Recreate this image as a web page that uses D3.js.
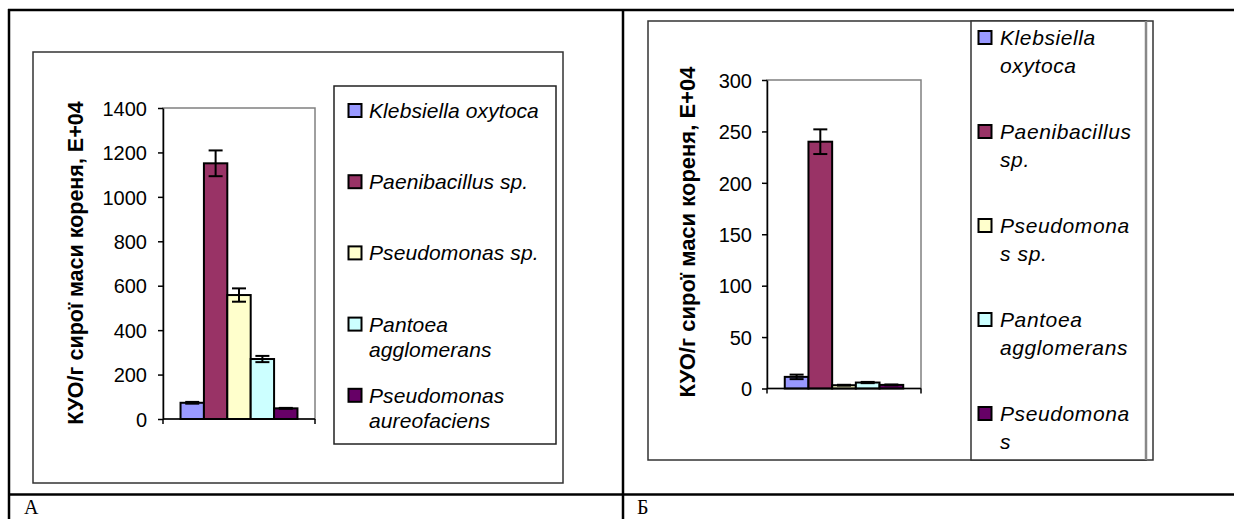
<!DOCTYPE html>
<html>
<head>
<meta charset="utf-8">
<script src="https://cdn.jsdelivr.net/npm/d3@7"></script>
<style>
  html, body { margin: 0; padding: 0; background: #fff; }
  svg { display: block; }
</style>
</head>
<body>
<svg id="chart" width="1234" height="519"></svg>
<script>
// ---------- DATA ----------
const categories = ["Klebsiella oxytoca", "Paenibacillus sp.", "Pseudomonas sp.", "Pantoea agglomerans", "Pseudomonas aureofaciens"];
const colors = ["#9999FF", "#993366", "#FFFFCC", "#CCFFFF", "#660066"];
const valuesA = [73, 1151, 558, 270, 48];
const errorsA = [4, 58, 30, 14, 2];
const valuesB = [11.3, 240, 3.2, 5.8, 3.5];
const errorsB = [2.2, 12, 0.4, 0.6, 0.4];
const ticksA = [0, 200, 400, 600, 800, 1000, 1200, 1400];
const ticksB = [0, 50, 100, 150, 200, 250, 300];
const legendLinesA = [["Klebsiella oxytoca"], ["Paenibacillus sp."], ["Pseudomonas sp."], ["Pantoea", "agglomerans"], ["Pseudomonas", "aureofaciens"]];
const legendLinesB = [["Klebsiella", "oxytoca"], ["Paenibacillus", "sp."], ["Pseudomona", "s sp."], ["Pantoea", "agglomerans"], ["Pseudomona", "s"]];
const yTitle = "КУО/г сирої маси кореня, E+04";
const panelLabels = ["А", "Б"];

// ---------- DRAW ----------
const svg = d3.select("#chart");

// outer table lines
const tbl = svg.append("g").attr("stroke", "#000").attr("stroke-width", 2.5);
tbl.append("line").attr("x1", 8).attr("x2", 1234).attr("y1", 10).attr("y2", 10);
tbl.append("line").attr("x1", 9).attr("x2", 9).attr("y1", 9).attr("y2", 519);
tbl.append("line").attr("x1", 623).attr("x2", 623).attr("y1", 9).attr("y2", 519);
tbl.append("line").attr("x1", 8).attr("x2", 1234).attr("y1", 494.5).attr("y2", 494.5);

svg.append("text").attr("x", 24).attr("y", 514)
  .attr("font-family", "Liberation Serif, Times New Roman, serif").attr("font-size", 20)
  .text(panelLabels[0]);
svg.append("text").attr("x", 637).attr("y", 514)
  .attr("font-family", "Liberation Serif, Times New Roman, serif").attr("font-size", 20)
  .text(panelLabels[1]);

function drawChart(cfg) {
  const g = svg.append("g");
  // chart frame
  g.append("rect").attr("x", cfg.frame[0]).attr("y", cfg.frame[1])
    .attr("width", cfg.frame[2] - cfg.frame[0]).attr("height", cfg.frame[3] - cfg.frame[1])
    .attr("fill", "#fff").attr("stroke", "#333").attr("stroke-width", 1.5);

  const x0 = cfg.plot[0], x1 = cfg.plot[1], yTop = cfg.plot[2], yBot = cfg.plot[3];
  const y = d3.scaleLinear().domain([0, cfg.max]).range([yBot, yTop]);
  const bw = (x1 - x0) / 6.5;
  const x = d3.scaleBand().domain(categories)
    .range([x0 + bw * 0.75, x1 - bw * 0.75]).padding(0);

  // plot area border (gray)
  g.append("rect").attr("x", x0).attr("y", yTop).attr("width", x1 - x0).attr("height", yBot - yTop)
    .attr("fill", "#fff").attr("stroke", "#808080").attr("stroke-width", 1.5);

  // bars
  g.selectAll(".bar").data(cfg.values).enter().append("rect")
    .attr("x", (d, i) => x(categories[i]))
    .attr("y", d => y(d))
    .attr("width", x.bandwidth())
    .attr("height", d => yBot - y(d))
    .attr("fill", (d, i) => colors[i])
    .attr("stroke", "#000").attr("stroke-width", 2);

  // error bars
  const eb = g.append("g").attr("stroke", "#000").attr("stroke-width", 2);
  cfg.values.forEach((v, i) => {
    const cx = x(categories[i]) + x.bandwidth() / 2;
    const e = cfg.errors[i];
    eb.append("line").attr("x1", cx).attr("x2", cx).attr("y1", y(v + e)).attr("y2", y(v - e));
    eb.append("line").attr("x1", cx - 7).attr("x2", cx + 7).attr("y1", y(v + e)).attr("y2", y(v + e));
    eb.append("line").attr("x1", cx - 7).attr("x2", cx + 7).attr("y1", y(v - e)).attr("y2", y(v - e));
  });

  // y axis
  const ax = g.append("g").attr("transform", `translate(${x0},0)`)
    .call(d3.axisLeft(y).tickValues(cfg.ticks).tickFormat(d3.format("d"))
      .tickSize(5).tickPadding(cfg.tickPad).tickSizeOuter(0));
  ax.select(".domain").attr("stroke", "#000").attr("stroke-width", 1.5);
  ax.selectAll(".tick line").attr("stroke", "#000").attr("stroke-width", 1.5);
  ax.selectAll(".tick text").attr("font-family", "Liberation Sans, Arial, sans-serif")
    .attr("font-size", cfg.tickFont).attr("fill", "#000").attr("dy", "0.36em");

  // x axis (category axis) line with end ticks
  const xa = g.append("g").attr("stroke", "#000").attr("stroke-width", 1.5);
  xa.append("line").attr("x1", x0).attr("x2", x1).attr("y1", yBot).attr("y2", yBot);
  xa.append("line").attr("x1", x0).attr("x2", x0).attr("y1", yBot).attr("y2", yBot + 5);
  xa.append("line").attr("x1", x1).attr("x2", x1).attr("y1", yBot).attr("y2", yBot + 5);

  // y title
  g.append("text")
    .attr("transform", `translate(${cfg.titleX},${cfg.titleY}) rotate(-90)`)
    .attr("text-anchor", "middle")
    .attr("font-family", "Liberation Sans, Arial, sans-serif")
    .attr("font-weight", "bold").attr("font-size", cfg.titleFont)
    .attr("dy", "0.36em")
    .text(yTitle);

  // legend
  const L = cfg.legend;
  g.append("rect").attr("x", L.box[0]).attr("y", L.box[1])
    .attr("width", L.box[2] - L.box[0]).attr("height", L.box[3] - L.box[1])
    .attr("fill", "#fff").attr("stroke", L.stroke).attr("stroke-width", 1.5);
  if (L.extra) L.extra(g);
  cfg.legendLines.forEach((lines, i) => {
    const base = L.firstBase + i * L.step;
    g.append("rect").attr("x", L.sqX).attr("y", base - 7.5 - 6.5)
      .attr("width", 13).attr("height", 13)
      .attr("fill", colors[i]).attr("stroke", "#000").attr("stroke-width", 2);
    lines.forEach((t, j) => {
      g.append("text").attr("x", L.textX).attr("y", base + j * L.lineH)
        .attr("font-family", "Liberation Sans, Arial, sans-serif")
        .attr("font-style", "italic").attr("font-size", L.font)
        .attr("letter-spacing", L.ls)
        .text(t);
    });
  });
}

drawChart({
  frame: [33, 52, 563, 483],
  plot: [163, 315, 108, 419],
  max: 1400, values: valuesA, errors: errorsA, ticks: ticksA,
  tickPad: 11, tickFont: 20, titleX: 75, titleY: 263, titleFont: 21.5,
  legendLines: legendLinesA,
  legend: { box: [334, 86, 556, 444], stroke: "#222", sqX: 348.5, textX: 369, firstBase: 118, step: 71.2, lineH: 25, font: 21, ls: 0.1 }
});

drawChart({
  frame: [648, 21, 1153, 460],
  plot: [767, 921, 80, 388.5],
  max: 300, values: valuesB, errors: errorsB, ticks: ticksB,
  tickPad: 10, tickFont: 20, titleX: 687, titleY: 232, titleFont: 22,
  legendLines: legendLinesB,
  legend: { box: [971, 21, 1146, 460], stroke: "#333", sqX: 978.5, textX: 1000, firstBase: 45, step: 94, lineH: 28, font: 21, ls: 0.6,
    extra: gg => gg.append("line").attr("x1", 1146).attr("x2", 1146).attr("y1", 21).attr("y2", 460)
      .attr("stroke", "#888").attr("stroke-width", 2.5) }
});
</script>
</body>
</html>
